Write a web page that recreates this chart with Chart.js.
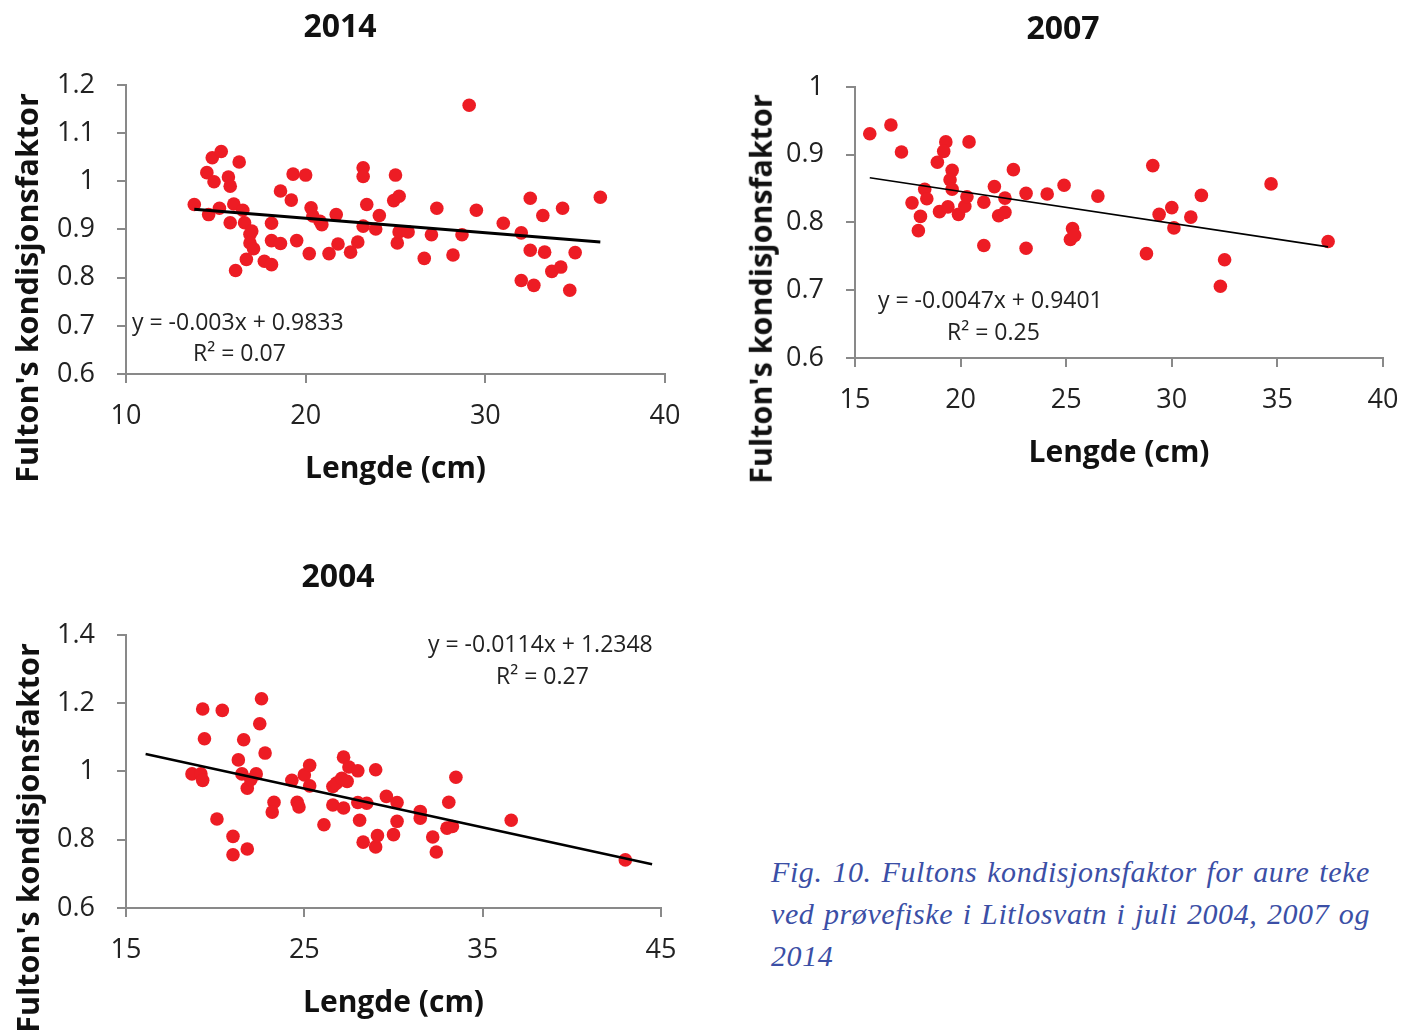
<!DOCTYPE html>
<html><head><meta charset="utf-8">
<script src="https://cdn.jsdelivr.net/npm/chart.js@4.4.1/dist/chart.umd.min.js"></script>
<style>
html,body{margin:0;padding:0;background:#fff;width:1414px;height:1030px;overflow:hidden;position:relative;font-family:'Open Sans',sans-serif;}
canvas{position:absolute;}
.ytitle{position:absolute;font-family:'Open Sans';font-weight:bold;font-size:30.5px;color:#111;white-space:nowrap;line-height:1;transform:translate(-50%,-50%) rotate(-90deg);}
.eq{position:absolute;font-family:'Open Sans';font-size:23px;color:#222;white-space:nowrap;line-height:1;}
.cap{position:absolute;left:771px;width:599px;font-family:'Liberation Serif';font-style:italic;font-size:30px;color:#3b4fa6;line-height:42px;white-space:nowrap;letter-spacing:0.6px;}
.just{text-align:justify;text-align-last:justify;}
</style></head><body>

<canvas id="c2014"></canvas>
<canvas id="c2007"></canvas>
<canvas id="c2004"></canvas>

<div class="ytitle" style="left:26px;top:288px;">Fulton's kondisjonsfaktor</div>
<div class="ytitle" style="left:760px;top:289px;">Fulton's kondisjonsfaktor</div>
<div class="ytitle" style="left:27px;top:838px;">Fulton's kondisjonsfaktor</div>

<div class="eq" style="left:132px;top:310px;">y = -0.003x + 0.9833</div>
<div class="eq" style="left:193px;top:341px;">R² = 0.07</div>
<div class="eq" style="left:878px;top:288px;">y = -0.0047x + 0.9401</div>
<div class="eq" style="left:947px;top:320px;">R² = 0.25</div>
<div class="eq" style="left:428px;top:632px;">y = -0.0114x + 1.2348</div>
<div class="eq" style="left:496px;top:664px;">R² = 0.27</div>

<div class="cap just" style="top:851px;">Fig. 10. Fultons kondisjonsfaktor for aure teke</div>
<div class="cap just" style="top:893px;">ved prøvefiske i Litlosvatn i juli 2004, 2007 og</div>
<div class="cap" style="top:935px;">2014</div>

<script>
// ---------- DATA ----------
const len2014 = [13.8,14.5,14.8,15.3,14.9,14.6,15.2,15.7,15.8,16.3,16.0,15.8,16.1,16.5,16.6,16.7,16.9,17.0,16.9,17.1,17.7,18.1,18.1,18.1,18.6,18.6,19.3,19.2,19.5,20.0,20.3,20.2,20.4,20.8,20.9,21.3,21.7,21.8,22.5,22.9,23.2,23.2,23.2,23.4,23.9,24.1,25.0,24.9,25.2,25.1,25.2,25.7,26.6,27.0,27.3,28.2,28.7,29.1,29.5,31.0,32.0,32.0,32.5,32.5,32.7,33.2,33.3,33.7,34.2,34.3,34.7,35.0,36.4];
const k2014   = [0.952,1.018,1.049,1.062,0.999,0.931,0.944,1.009,0.990,1.040,0.953,0.914,0.815,0.940,0.914,0.838,0.890,0.897,0.872,0.860,0.834,0.827,0.913,0.877,0.980,0.871,1.015,0.961,0.877,1.013,0.945,0.850,0.928,0.917,0.910,0.850,0.931,0.870,0.853,0.874,1.028,1.010,0.907,0.952,0.901,0.929,1.013,0.960,0.969,0.872,0.895,0.895,0.840,0.889,0.944,0.847,0.889,1.158,0.940,0.913,0.893,0.794,0.965,0.857,0.784,0.929,0.853,0.813,0.822,0.944,0.774,0.852,0.967];
const trend2014X = [13.8, 36.4];
const trend2014Y = [0.942, 0.874];

const len2007 = [15.7,16.7,17.2,19.3,19.2,18.9,20.4,19.6,19.5,19.6,18.3,18.4,17.7,18.1,18.0,19.0,19.4,19.9,20.2,20.3,21.1,21.1,21.6,22.1,21.8,22.1,22.5,23.1,23.1,24.1,24.9,25.3,25.2,25.4,26.5,28.8,29.1,29.4,30.0,30.1,30.9,31.4,32.5,32.3,34.7,37.4];
const k2007   = [0.931,0.944,0.904,0.919,0.905,0.889,0.919,0.877,0.863,0.849,0.849,0.835,0.829,0.809,0.788,0.816,0.823,0.812,0.824,0.838,0.830,0.766,0.853,0.836,0.810,0.815,0.878,0.843,0.762,0.842,0.855,0.791,0.775,0.781,0.839,0.754,0.884,0.812,0.822,0.792,0.808,0.840,0.745,0.706,0.857,0.772];
const trend2007X = [15.7, 37.4];
const trend2007Y = [0.866, 0.764];

const len2004 = [18.7,19.2,19.3,19.3,19.4,20.4,20.1,21.0,21.0,21.8,21.3,21.6,21.5,21.8,22.0,22.3,22.6,22.5,22.8,23.3,23.2,24.3,24.6,24.7,25.0,25.3,25.3,26.1,26.6,26.6,26.8,27.1,27.2,27.2,27.4,27.5,28.0,28.0,28.1,28.3,28.5,29.0,29.0,29.1,29.6,30.0,30.2,30.2,31.5,31.5,32.2,32.4,33.1,33.0,33.3,33.5,36.6,43.0];
const k2004   = [0.993,0.993,0.974,1.183,1.096,1.179,0.861,0.810,0.756,0.773,1.034,1.093,0.993,0.951,0.976,0.993,1.213,1.140,1.054,0.910,0.881,0.974,0.910,0.896,0.990,1.018,0.958,0.844,0.956,0.902,0.966,0.980,1.042,0.893,0.971,1.013,1.002,0.909,0.857,0.793,0.907,1.005,0.779,0.812,0.927,0.815,0.909,0.854,0.883,0.863,0.808,0.764,0.910,0.834,0.839,0.983,0.857,0.741];
const trend2004X = [16.1, 44.5];
const trend2004Y = [1.051, 0.728];

const xTicks2014 = [10,20,30,40];           const xLabels2014 = ['10','20','30','40'];
const yTicks2014 = [0.6,0.7,0.8,0.9,1.0,1.1,1.2]; const yLabels2014 = ['0.6','0.7','0.8','0.9','1','1.1','1.2'];
const xTicks2007 = [15,20,25,30,35,40];      const xLabels2007 = ['15','20','25','30','35','40'];
const yTicks2007 = [0.6,0.7,0.8,0.9,1.0];    const yLabels2007 = ['0.6','0.7','0.8','0.9','1'];
const xTicks2004 = [15,25,35,45];            const xLabels2004 = ['15','25','35','45'];
const yTicks2004 = [0.6,0.8,1.0,1.2,1.4];    const yLabels2004 = ['0.6','0.8','1','1.2','1.4'];

const titles = ['2014','2007','2004'];
const xAxisTitle = 'Lengde (cm)';

// ---------- STYLE ----------
const FONT = "'Open Sans'";
const AXIS = '#898989';
const TXT = '#222';
const RED = '#ED1C24';

function pts(xs, ys){ return xs.map((x,i)=>({x:x, y:ys[i]})); }

function makeChart(id, o){
  const cv = document.getElementById(id);
  cv.width = o.w; cv.height = o.h;
  cv.style.left = o.left+'px'; cv.style.top = o.top+'px';
  cv.style.width = o.w+'px'; cv.style.height = o.h+'px';
  return new Chart(cv, {
    type:'scatter',
    data:{ datasets:[
      { type:'line', data:pts(o.tx,o.ty), borderColor:'#000', borderWidth:o.lw, pointRadius:0, fill:false, tension:0, showLine:true, order:1 },
      { type:'scatter', data:pts(o.xs,o.ys), backgroundColor:RED, borderWidth:0, pointRadius:6.8, pointHoverRadius:6.8, order:2 }
    ]},
    options:{
      responsive:false, animation:false, devicePixelRatio:1,
      layout:{ padding:{ left:o.pl, right:o.pr, top:0, bottom:0 } },
      plugins:{
        legend:{display:false}, tooltip:{enabled:false},
        title:{ display:true, text:o.title, color:'#111', font:{family:FONT, size:32, weight:'bold', lineHeight:1.2}, padding:{top:8.8, bottom:37.8} }
      },
      scales:{
        x:{ type:'linear', position:'bottom', min:o.xmin, max:o.xmax,
          afterBuildTicks:s=>{ s.ticks = o.xt.map(v=>({value:v})); },
          afterFit:s=>{ s.height = 126; },
          ticks:{ font:{family:FONT, size:27}, color:TXT, padding:17.5, maxRotation:0, autoSkip:false,
                  callback:v=>o.xl[o.xt.indexOf(v)] },
          grid:{ display:true, drawOnChartArea:false, drawTicks:true, tickLength:9, color:AXIS, lineWidth:2 },
          border:{ display:true, color:AXIS, width:2 },
          title:{ display:true, text:xAxisTitle, color:'#111', font:{family:FONT, size:30, weight:'bold', lineHeight:1.2}, padding:{top:0, bottom:13} }
        },
        y:{ type:'linear', position:'left', min:o.ymin, max:o.ymax,
          afterBuildTicks:s=>{ s.ticks = o.yt.map(v=>({value:v})); },
          afterFit:s=>{ s.width = o.yw; },
          ticks:{ font:{family:FONT, size:27}, color:TXT, padding:22, autoSkip:false,
                  callback:v=>o.yl[o.yt.indexOf(v)] },
          grid:{ display:true, drawOnChartArea:false, drawTicks:true, tickLength:9, color:AXIS, lineWidth:2 },
          border:{ display:true, color:AXIS, width:2 }
        }
      }
    }
  });
}

makeChart('c2014', { left:0, top:0, w:705, h:500, pl:15, pr:40, yw:111, title:titles[0],
  xs:len2014, ys:k2014, tx:trend2014X, ty:trend2014Y, lw:3,
  xmin:10, xmax:40, ymin:0.6, ymax:1.2, xt:xTicks2014, xl:xLabels2014, yt:yTicks2014, yl:yLabels2014 });

makeChart('c2007', { left:726, top:2, w:697, h:482, pl:17, pr:40, yw:112, title:titles[1],
  xs:len2007, ys:k2007, tx:trend2007X, ty:trend2007Y, lw:1.6,
  xmin:15, xmax:40, ymin:0.6, ymax:1.0, xt:xTicks2007, xl:xLabels2007, yt:yTicks2007, yl:yLabels2007 });

makeChart('c2004', { left:0, top:550, w:701, h:484, pl:15, pr:40, yw:111, title:titles[2],
  xs:len2004, ys:k2004, tx:trend2004X, ty:trend2004Y, lw:2.5,
  xmin:15, xmax:45, ymin:0.6, ymax:1.4, xt:xTicks2004, xl:xLabels2004, yt:yTicks2004, yl:yLabels2004 });
</script>
</body></html>
